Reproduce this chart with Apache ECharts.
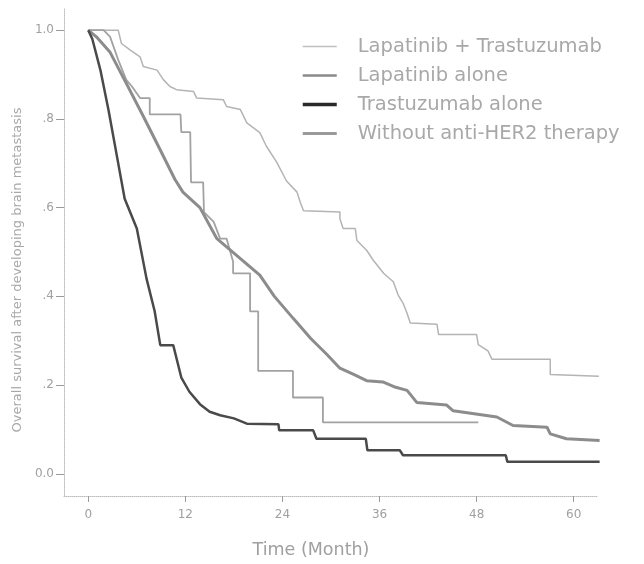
<!DOCTYPE html>
<html>
<head>
<meta charset="utf-8">
<script src="https://cdn.jsdelivr.net/npm/echarts@6/dist/echarts.min.js"></script>
<style>html,body{margin:0;padding:0;background:#fff}#c{width:644px;height:564px}</style>
</head>
<body>
<div id="c"></div>
<script>
var seriesNames = ['Lapatinib + Trastuzumab', 'Lapatinib alone', 'Trastuzumab alone', 'Without anti-HER2 therapy'];
var xTicks = [0, 12, 24, 36, 48, 60];
var yTicks = [0, 0.2, 0.4, 0.6, 0.8, 1.0];
var yTickLabels = ['0.0', '.2', '.4', '.6', '.8', '1.0'];

var lapTras = [[0,1],[3.7,1],[4.1,0.97],[5.2,0.955],[6.4,0.94],[6.8,0.918],[8.5,0.91],[9.3,0.888],[10.1,0.873],[10.9,0.866],[13,0.862],[13.4,0.847],[16.7,0.843],[17.1,0.828],[18.8,0.821],[19.6,0.791],[21.2,0.769],[22,0.739],[23.3,0.702],[24.5,0.66],[25.8,0.635],[26.2,0.612],[26.6,0.593],[31.1,0.59],[31.1,0.575],[31.5,0.553],[33,0.553],[33.2,0.526],[34.4,0.504],[35.2,0.482],[36.5,0.452],[37.7,0.433],[38.3,0.403],[38.9,0.385],[39.4,0.362],[39.8,0.34],[43.1,0.337],[43.3,0.314],[48,0.314],[48.2,0.291],[49.4,0.277],[49.9,0.258],[57.1,0.258],[57.1,0.224],[63.1,0.22]];
var lapAlone = [[0,1],[1.9,1],[2.7,0.985],[3.7,0.933],[4.7,0.888],[5.4,0.873],[6.4,0.847],[7.6,0.847],[7.6,0.81],[11.4,0.81],[11.5,0.77],[12.6,0.77],[12.7,0.657],[14.2,0.657],[14.3,0.59],[15.5,0.568],[16.3,0.53],[17.1,0.53],[17.9,0.478],[17.9,0.452],[20.0,0.452],[20.0,0.366],[21.0,0.366],[21.0,0.232],[25.3,0.232],[25.3,0.172],[29.0,0.172],[29.0,0.116],[48.2,0.116]];
var trasAlone = [[0,1],[0.5,0.98],[1.5,0.91],[2.5,0.82],[3.5,0.72],[4.5,0.62],[6,0.553],[7.2,0.44],[8.2,0.367],[8.9,0.29],[10.5,0.29],[11.5,0.217],[12.5,0.185],[13.8,0.157],[15,0.14],[16.3,0.132],[18,0.125],[19.6,0.113],[23.5,0.112],[23.6,0.098],[27.8,0.098],[28.2,0.079],[34.3,0.079],[34.5,0.053],[38.5,0.053],[38.9,0.042],[51.6,0.042],[51.8,0.027],[63.2,0.027]];
var withoutHer2 = [[0,1],[1,0.985],[2.7,0.95],[4.7,0.88],[6.8,0.806],[8.9,0.73],[10.7,0.664],[11.7,0.635],[13.8,0.6],[15.9,0.53],[18.8,0.485],[21.2,0.448],[23,0.4],[25.3,0.351],[27.5,0.305],[29.5,0.269],[31.1,0.238],[32.8,0.224],[34.4,0.21],[36.4,0.207],[38,0.195],[39.4,0.188],[40.6,0.161],[44.3,0.155],[45.1,0.142],[50.5,0.128],[52.5,0.109],[56.7,0.105],[57.1,0.09],[59.1,0.079],[63.2,0.075]];

var seriesData = [lapTras, lapAlone, trasAlone, withoutHer2];
var colors = ['#b4b4b4', '#a2a2a2', '#4a4a4a', '#8c8c8c'];
var legendColors = ['#c0c0c0', '#8a8a8a', '#2a2a2a', '#9a9a9a'];
var widths = [1.5, 1.8, 2.5, 3];
var legendWidths = [1.5, 2.5, 3.5, 3];

var chart = echarts.init(document.getElementById('c'), null, {renderer: 'canvas'});
var series = seriesNames.map(function (n, i) {
  return {
    name: n, type: 'line', data: seriesData[i], symbol: 'none', showSymbol: false,
    lineStyle: {color: colors[i], width: widths[i]}, itemStyle: {color: colors[i]},
    z: [1, 2, 4, 3][i], animation: false
  };
});
chart.setOption({
  backgroundColor: '#ffffff',
  animation: false,
  grid: {left: 64, right: 46, top: 8, bottom: 64, containLabel: false},
  legend: {
    orient: 'vertical', left: 296, top: 31, itemWidth: 34, itemHeight: 14, itemGap: 8,
    data: seriesNames.map(function (n, i) {
      return {name: n, lineStyle: {color: legendColors[i], width: legendWidths[i]},
        itemStyle: {color: 'rgba(0,0,0,0)', borderWidth: 0, opacity: 0}};
    }),
    textStyle: {fontFamily: 'DejaVu Sans', fontSize: 19.5, color: '#a8a8a8', lineHeight: 21, padding: [0, 0, 0, 16]}
  },
  xAxis: {
    type: 'value', min: -3, max: 63,
    name: 'Time (Month)', nameLocation: 'middle', nameGap: 45,
    nameTextStyle: {fontFamily: 'DejaVu Sans', fontSize: 17.5, color: '#a0a0a0', padding: [0, 40, 0, 0]},
    axisLine: {show: true, onZero: false, lineStyle: {color: '#bdbdbd', type: 'dotted', width: 1}},
    axisTick: {show: true, length: 6, customValues: xTicks, lineStyle: {color: '#9a9a9a'}},
    axisLabel: {customValues: xTicks, margin: 13, fontFamily: 'DejaVu Sans', fontSize: 12, color: '#a0a0a0'},
    splitLine: {show: false}
  },
  yAxis: {
    type: 'value', min: -0.05, max: 1.05,
    name: 'Overall survival after developing brain metastasis', nameLocation: 'middle', nameGap: 36,
    nameTextStyle: {fontFamily: 'DejaVu Sans', fontSize: 13, color: '#a8a8a8', padding: [0, 36, 0, 0]},
    axisLine: {show: true, onZero: false, lineStyle: {color: '#bdbdbd', type: 'dotted', width: 1}},
    axisTick: {show: true, length: 8, customValues: yTicks, lineStyle: {color: '#9a9a9a'}},
    axisLabel: {customValues: yTicks, margin: 10, fontFamily: 'DejaVu Sans', fontSize: 12, color: '#a0a0a0',
      formatter: function (v) { var k = yTicks.indexOf(Math.round(v * 10) / 10); return k >= 0 ? yTickLabels[k] : ''; }},
    splitLine: {show: false}
  },
  series: series
});
</script>
</body>
</html>
